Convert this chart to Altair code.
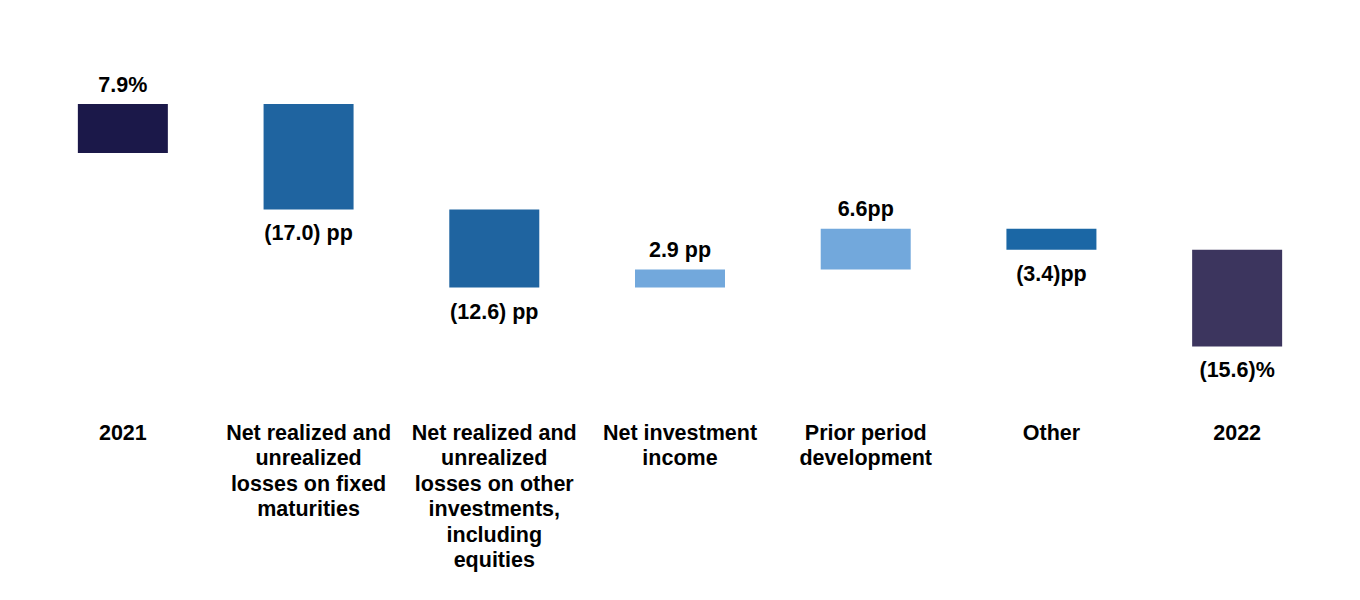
import altair as alt
import pandas as pd

categories = [
    "2021",
    "Net realized and\nunrealized\nlosses on fixed\nmaturities",
    "Net realized and\nunrealized\nlosses on other\ninvestments,\nincluding\nequities",
    "Net investment\nincome",
    "Prior period\ndevelopment",
    "Other",
    "2022",
]
values = [7.9, -17.0, -12.6, 2.9, 6.6, -3.4, -15.6]
value_labels = ["7.9%", "(17.0) pp", "(12.6) pp", "2.9 pp", "6.6pp", "(3.4)pp", "(15.6)%"]
bar_start = [0.0, 7.9, -9.1, -21.7, -18.8, -12.2, -15.6]
bar_end = [7.9, -9.1, -21.7, -18.8, -12.2, -15.6, -31.2]
colors = ["#1b1849", "#1f64a0", "#1f64a0", "#72a8dc", "#72a8dc", "#1b67a5", "#3c355e"]

df = pd.DataFrame({
    "cat": categories,
    "value": values,
    "label": value_labels,
    "start": bar_start,
    "end": bar_end,
})
df["top"] = df[["start", "end"]].max(axis=1)
df["bottom"] = df[["start", "end"]].min(axis=1)

FONT = "Liberation Sans"

x = alt.X(
    "cat:N",
    sort=categories,
    scale=alt.Scale(paddingInner=0.515, paddingOuter=0.2575),
    axis=alt.Axis(
        title=None,
        labelAngle=0,
        domain=False,
        ticks=False,
        labelPadding=12,
        labelBaseline="top",
        labelFont=FONT,
        labelFontSize=21.5,
        labelFontWeight="bold",
        labelColor="#000000",
        labelLineHeight=25.5,
        labelExpr="split(datum.label, '\\n')",
        labelLimit=300,
    ),
)
yscale = alt.Scale(domain=[-41.45, 23.39], nice=False, zero=False)

bars = alt.Chart(df).mark_bar(size=90).encode(
    x=x,
    y=alt.Y("start:Q", scale=yscale, axis=None),
    y2="end:Q",
    color=alt.Color("cat:N", scale=alt.Scale(domain=categories, range=colors), legend=None),
)

above = alt.Chart(df).transform_filter("datum.value > 0").mark_text(
    baseline="alphabetic", dy=-12.5, font=FONT, fontSize=21.5, fontWeight="bold", color="#000000"
).encode(x=alt.X("cat:N", sort=categories), y=alt.Y("top:Q", scale=yscale), text="label:N")

below = alt.Chart(df).transform_filter("datum.value < 0").mark_text(
    baseline="alphabetic", dy=31, font=FONT, fontSize=21.5, fontWeight="bold", color="#000000"
).encode(x=alt.X("cat:N", sort=categories), y=alt.Y("bottom:Q", scale=yscale), text="label:N")

chart = alt.layer(bars, above, below).properties(
    width=1300,
    height=402,
    autosize=alt.AutoSizeParams(type="none"),
    padding={"left": 22, "top": 0, "right": 20, "bottom": 175},
).configure_view(stroke=None).configure_axis(grid=False)

chart.save("out.html", embed_options={"renderer": "svg", "actions": False})
